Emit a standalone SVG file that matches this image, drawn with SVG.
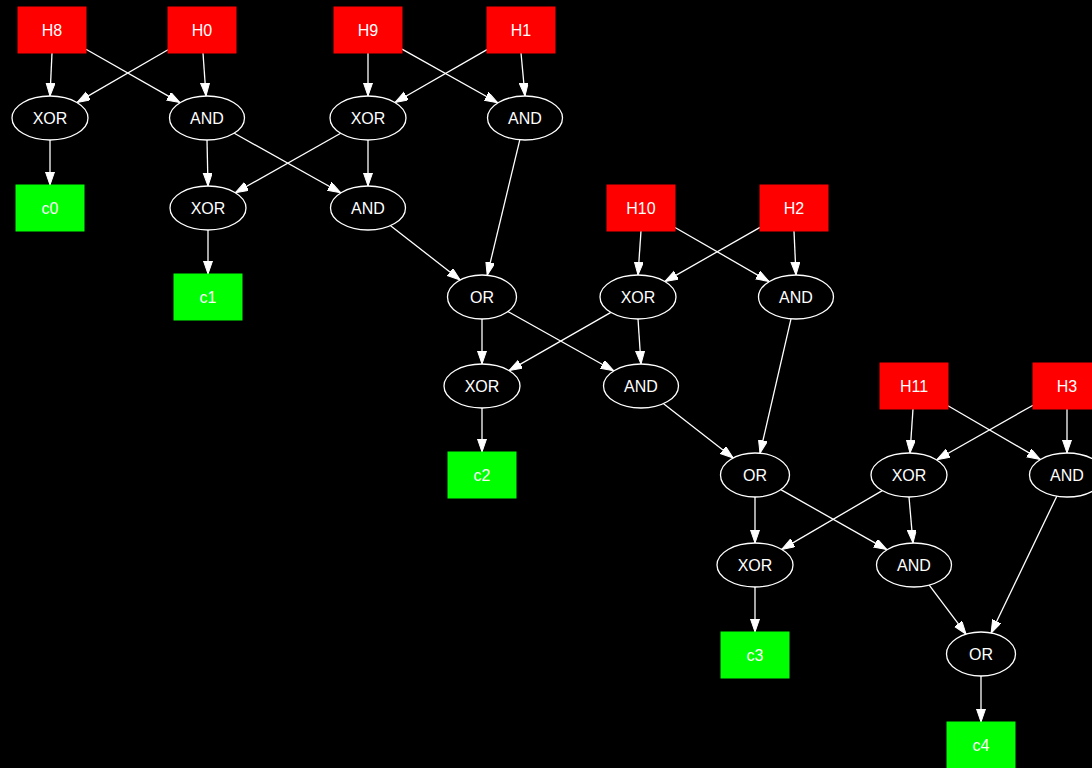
<svg xmlns="http://www.w3.org/2000/svg" width="1092" height="768" viewBox="0 0 1092 768">
<defs>
<marker id="ah" markerUnits="userSpaceOnUse" markerWidth="14" markerHeight="10" refX="13" refY="4.5" orient="auto">
<path d="M0,0 L13,4.5 L0,9 z" fill="#ffffff" stroke="#ffffff" stroke-width="1"/>
</marker>
</defs>
<style>
.in rect{fill:#ff0000;stroke:#ff0000}
.out rect{fill:#00ff00;stroke:#00ff00}
.g ellipse{fill:#000000;stroke:#ffffff;stroke-width:1.3}
text{font-family:"Liberation Sans",Arial,sans-serif;font-size:16px;fill:#ffffff;text-anchor:middle;dominant-baseline:central}
#edges line{stroke:#ffffff;stroke-width:1.3;marker-end:url(#ah)}
</style>
<rect x="0" y="0" width="1092" height="768" fill="#000000"/>
<g id="edges">
<line x1="52" y1="53" x2="50" y2="96"/>
<line x1="86" y1="49.3" x2="179.9" y2="102.6"/>
<line x1="168" y1="49.7" x2="77.1" y2="102.4"/>
<line x1="203" y1="53" x2="206" y2="96"/>
<line x1="50" y1="140" x2="50" y2="185"/>
<line x1="207" y1="140" x2="208" y2="186"/>
<line x1="234.3" y1="133.3" x2="340.7" y2="192.7"/>
<line x1="368" y1="53" x2="368" y2="96"/>
<line x1="402" y1="49.1" x2="497.7" y2="102.7"/>
<line x1="487" y1="49.6" x2="395" y2="102.5"/>
<line x1="521" y1="53" x2="525" y2="96"/>
<line x1="340.7" y1="133.3" x2="235.3" y2="192.7"/>
<line x1="368" y1="140" x2="368" y2="186"/>
<line x1="208" y1="230" x2="208" y2="274"/>
<line x1="390.6" y1="225.7" x2="460.2" y2="280"/>
<line x1="519.8" y1="139.8" x2="487.2" y2="275.3"/>
<line x1="482" y1="319" x2="482" y2="364"/>
<line x1="507.9" y1="311.5" x2="613.7" y2="370.7"/>
<line x1="641" y1="231" x2="638" y2="275"/>
<line x1="675" y1="227.5" x2="769" y2="281.5"/>
<line x1="760" y1="227.4" x2="664.9" y2="281.6"/>
<line x1="794" y1="231" x2="796" y2="275"/>
<line x1="610.9" y1="312.4" x2="509.1" y2="370.6"/>
<line x1="638" y1="319" x2="641" y2="364"/>
<line x1="482" y1="408" x2="482" y2="452"/>
<line x1="663.6" y1="403.7" x2="733.2" y2="458"/>
<line x1="791" y1="318.8" x2="760" y2="453.2"/>
<line x1="755" y1="497" x2="755" y2="543"/>
<line x1="780.8" y1="489.6" x2="886.8" y2="549.6"/>
<line x1="913" y1="409" x2="910" y2="453"/>
<line x1="948" y1="405.8" x2="1040.2" y2="459.4"/>
<line x1="1033" y1="405.2" x2="936.8" y2="459.7"/>
<line x1="1067" y1="409" x2="1067" y2="453"/>
<line x1="882.3" y1="490.6" x2="781.7" y2="549.4"/>
<line x1="909" y1="497" x2="913" y2="543"/>
<line x1="755" y1="587" x2="755" y2="632"/>
<line x1="929.2" y1="585.2" x2="966.1" y2="634.2"/>
<line x1="1056.8" y1="496.2" x2="991.1" y2="633"/>
<line x1="981" y1="676" x2="981" y2="722"/>
</g>
<g id="H8" class="in"><rect x="18" y="7" width="68" height="46"/><text x="52" y="30">H8</text></g>
<g id="H0" class="in"><rect x="168" y="7" width="68" height="46"/><text x="202" y="30">H0</text></g>
<g id="H9" class="in"><rect x="334" y="7" width="68" height="46"/><text x="368" y="30">H9</text></g>
<g id="H1" class="in"><rect x="487" y="7" width="68" height="46"/><text x="521" y="30">H1</text></g>
<g id="xor0" class="g"><ellipse cx="50" cy="118" rx="38" ry="22"/><text x="50" y="118">XOR</text></g>
<g id="and0" class="g"><ellipse cx="207" cy="118" rx="37.5" ry="22"/><text x="207" y="118">AND</text></g>
<g id="xor1a" class="g"><ellipse cx="368" cy="118" rx="38" ry="22"/><text x="368" y="118">XOR</text></g>
<g id="and1a" class="g"><ellipse cx="525" cy="118" rx="37.5" ry="22"/><text x="525" y="118">AND</text></g>
<g id="c0" class="out"><rect x="16" y="185" width="68" height="46"/><text x="50" y="208">c0</text></g>
<g id="xor1" class="g"><ellipse cx="208" cy="208" rx="38" ry="22"/><text x="208" y="208">XOR</text></g>
<g id="and1b" class="g"><ellipse cx="368" cy="208" rx="37.5" ry="22"/><text x="368" y="208">AND</text></g>
<g id="H10" class="in"><rect x="607" y="185" width="68" height="46"/><text x="641" y="208">H10</text></g>
<g id="H2" class="in"><rect x="760" y="185" width="68" height="46"/><text x="794" y="208">H2</text></g>
<g id="c1" class="out"><rect x="174" y="274" width="68" height="46"/><text x="208" y="297">c1</text></g>
<g id="or1" class="g"><ellipse cx="482" cy="297" rx="34.5" ry="22"/><text x="482" y="297">OR</text></g>
<g id="xor2a" class="g"><ellipse cx="638" cy="297" rx="38" ry="22"/><text x="638" y="297">XOR</text></g>
<g id="and2a" class="g"><ellipse cx="796" cy="297" rx="37.5" ry="22"/><text x="796" y="297">AND</text></g>
<g id="xor2" class="g"><ellipse cx="482" cy="386" rx="38" ry="22"/><text x="482" y="386">XOR</text></g>
<g id="and2b" class="g"><ellipse cx="641" cy="386" rx="37.5" ry="22"/><text x="641" y="386">AND</text></g>
<g id="H11" class="in"><rect x="880" y="363" width="68" height="46"/><text x="914" y="386">H11</text></g>
<g id="H3" class="in"><rect x="1033" y="363" width="68" height="46"/><text x="1067" y="386">H3</text></g>
<g id="c2" class="out"><rect x="448" y="452" width="68" height="46"/><text x="482" y="475">c2</text></g>
<g id="or2" class="g"><ellipse cx="755" cy="475" rx="34.5" ry="22"/><text x="755" y="475">OR</text></g>
<g id="xor3a" class="g"><ellipse cx="909" cy="475" rx="38" ry="22"/><text x="909" y="475">XOR</text></g>
<g id="and3a" class="g"><ellipse cx="1067" cy="475" rx="37.5" ry="22"/><text x="1067" y="475">AND</text></g>
<g id="xor3" class="g"><ellipse cx="755" cy="565" rx="38" ry="22"/><text x="755" y="565">XOR</text></g>
<g id="and3b" class="g"><ellipse cx="914" cy="565" rx="37.5" ry="22"/><text x="914" y="565">AND</text></g>
<g id="c3" class="out"><rect x="721" y="632" width="68" height="46"/><text x="755" y="655">c3</text></g>
<g id="or3" class="g"><ellipse cx="981" cy="654" rx="34.5" ry="22"/><text x="981" y="654">OR</text></g>
<g id="c4" class="out"><rect x="947" y="722" width="68" height="46"/><text x="981" y="745">c4</text></g>
</svg>
